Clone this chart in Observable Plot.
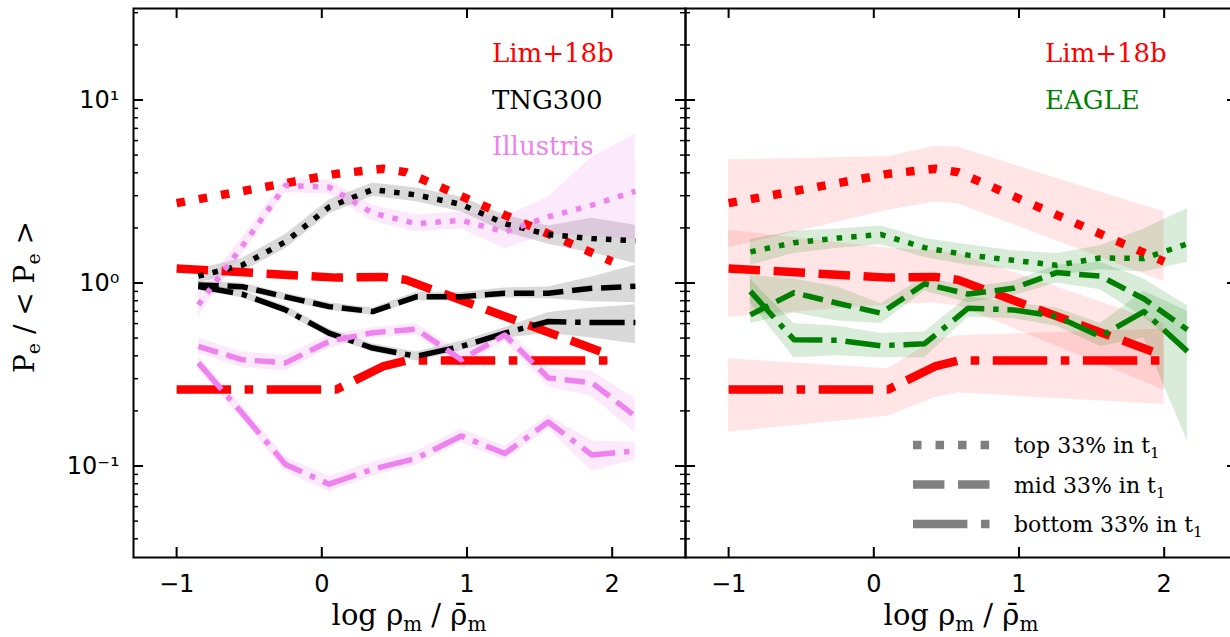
<!DOCTYPE html>
<html><head><meta charset="utf-8">
<script src="https://cdn.jsdelivr.net/npm/d3@7"></script>
<script src="https://cdn.jsdelivr.net/npm/@observablehq/plot@0.6"></script>
<style>
html,body{margin:0;padding:0;background:#fff;overflow:hidden;}
#wrap{position:relative;width:1230px;height:637px;overflow:hidden;background:#fff;}
#overlay{position:absolute;left:0;top:0;pointer-events:none;}
</style></head>
<body><div id="wrap"></div>
<script>
// ---------- data ----------
const simX = [-0.85, -0.55, -0.25, 0.05, 0.35, 0.65, 0.96, 1.26, 1.56, 1.86, 2.16];
const limX = [-1.0, 0.1, 0.42, 0.58, 2.0];

// Lim+18b (red)
const limTop   = [2.73, 3.95, 4.21, 4.03, 1.31];
const limTopLo = [1.56, 2.50, 2.77, 2.71, 1.02];
const limTopHi = [4.71, 4.91, 5.58, 5.52, 2.44];
const limMid   = [1.20, 1.07, 1.08, 1.04, 0.40];
const limMidLo = [0.65, 0.76, 0.78, 0.75, 0.26];
const limMidHi = [1.94, 1.55, 1.50, 1.45, 0.60];
const limBot   = [0.262, 0.262, 0.35, 0.377, 0.377];
const limBotLo = [0.153, 0.187, 0.236, 0.251, 0.217];
const limBotHi = [0.385, 0.34, 0.49, 0.515, 0.56];

// TNG300 (black)
const tngTop   = [1.09, 1.25, 1.68, 2.60, 3.24, 3.03, 2.69, 2.11, 1.84, 1.75, 1.70];
const tngTopLo = [1.00, 1.15, 1.54, 2.38, 2.98, 2.78, 2.45, 1.90, 1.63, 1.46, 1.28];
const tngTopHi = [1.19, 1.36, 1.84, 2.84, 3.52, 3.30, 2.95, 2.35, 2.05, 2.26, 2.07];
const tngMid   = [0.975, 0.955, 0.84, 0.743, 0.698, 0.84, 0.84, 0.88, 0.88, 0.935, 0.96];
const tngMidLo = [0.93, 0.91, 0.80, 0.71, 0.665, 0.80, 0.80, 0.83, 0.82, 0.79, 0.78];
const tngMidHi = [1.02, 1.00, 0.88, 0.78, 0.73, 0.89, 0.89, 0.94, 0.95, 1.08, 1.25];
const tngBot   = [0.955, 0.87, 0.713, 0.532, 0.441, 0.398, 0.45, 0.532, 0.616, 0.608, 0.608];
const tngBotLo = [0.91, 0.83, 0.68, 0.505, 0.42, 0.375, 0.425, 0.50, 0.53, 0.50, 0.466];
const tngBotHi = [1.00, 0.91, 0.75, 0.56, 0.465, 0.42, 0.48, 0.57, 0.69, 0.73, 0.76];

// Illustris (violet)
const illTop   = [0.76, 1.58, 3.41, 3.34, 2.41, 2.11, 2.20, 1.90, 2.30, 2.66, 3.18];
const illTopLo = [0.66, 1.42, 3.12, 3.05, 2.18, 1.90, 1.98, 1.54, 1.85, 1.80, 1.72];
const illTopHi = [0.88, 1.76, 3.72, 3.65, 2.66, 2.35, 2.44, 2.30, 2.95, 4.86, 6.50];
const illMid   = [0.45, 0.381, 0.366, 0.48, 0.535, 0.56, 0.381, 0.52, 0.303, 0.285, 0.187];
const illMidLo = [0.41, 0.345, 0.33, 0.44, 0.50, 0.52, 0.345, 0.48, 0.27, 0.24, 0.152];
const illMidHi = [0.50, 0.42, 0.40, 0.52, 0.57, 0.60, 0.42, 0.57, 0.34, 0.33, 0.232];
const illBot   = [0.366, 0.195, 0.102, 0.0796, 0.096, 0.110, 0.146, 0.117, 0.174, 0.115, 0.121];
const illBotLo = [0.335, 0.18, 0.093, 0.072, 0.088, 0.101, 0.134, 0.107, 0.16, 0.094, 0.108];
const illBotHi = [0.40, 0.215, 0.112, 0.088, 0.105, 0.12, 0.16, 0.128, 0.19, 0.137, 0.135];

// EAGLE (green)
const eagTop   = [1.48, 1.66, 1.76, 1.84, 1.56, 1.42, 1.33, 1.25, 1.37, 1.36, 1.64];
const eagTopLo = [1.25, 1.45, 1.55, 1.62, 1.38, 1.25, 1.18, 1.10, 1.18, 1.15, 1.30];
const eagTopHi = [1.73, 1.92, 1.97, 2.05, 1.75, 1.62, 1.50, 1.45, 1.60, 1.97, 2.55];
const eagMid   = [0.67, 0.885, 0.775, 0.684, 0.99, 0.87, 0.935, 1.14, 1.09, 0.82, 0.555];
const eagMidLo = [0.60, 0.686, 0.62, 0.60, 0.90, 0.78, 0.85, 1.00, 0.92, 0.65, 0.42];
const eagMidHi = [1.10, 1.05, 0.95, 0.77, 1.08, 0.95, 1.02, 1.25, 1.30, 1.05, 0.75];
const eagBot   = [0.90, 0.49, 0.486, 0.454, 0.466, 0.728, 0.713, 0.656, 0.51, 0.698, 0.423];
const eagBotLo = [0.78, 0.39, 0.40, 0.39, 0.39, 0.65, 0.64, 0.58, 0.45, 0.50, 0.137];
const eagBotHi = [1.05, 0.60, 0.58, 0.53, 0.54, 0.84, 0.78, 0.73, 0.60, 0.90, 0.70];

// ticks
const xTicks = [-1, 0, 1, 2];
const yTicks = [0.1, 1, 10];
const yTickLabels = ["10⁻¹", "10⁰", "10¹"];

// ---------- layout ----------
const W = 1240, H = 637, MT = 8, MB = 80;
const IW = 552, IH = H - MT - MB;
const xDomain = [-1.297, 2.505];
const yDomain = [Math.pow(10, -1.5), Math.pow(10, 1.5)];
const yMinor = [];
for (let e = -2; e <= 1; e++) for (let k = 2; k <= 9; k++) {
  const v = k * Math.pow(10, e);
  if (v > yDomain[0] && v < yDomain[1]) yMinor.push(v);
}

const LW_RED = 8.5, LW_SIM = 5.5;
function dashes(style, lw) {
  if (style === "top") return [lw, 1.65 * lw].join(",");
  if (style === "mid") return [3.7 * lw, 1.6 * lw].join(",");
  return [6.4 * lw, 1.6 * lw, lw, 1.6 * lw].join(",");
}
function rows(xs, ys, lo, hi) {
  return xs.map((x, i) => ({x, y: ys[i], lo: lo ? lo[i] : null, hi: hi ? hi[i] : null}));
}
function band(xs, lo, hi, color, op) {
  return Plot.areaY(rows(xs, lo, lo, hi), {x: "x", y1: "lo", y2: "hi", fill: color, fillOpacity: op});
}
function line(xs, ys, color, lw, style) {
  return Plot.line(rows(xs, ys), {x: "x", y: "y", stroke: color, strokeWidth: lw,
    strokeDasharray: dashes(style, lw), strokeLinecap: "butt", strokeLinejoin: "round"});
}
function frameTicks() {
  const k = {stroke: "black"};
  return [
    Plot.tickY(yTicks, {y: d => d, insetRight: IW - 10, strokeWidth: 2, ...k}),
    Plot.tickY(yMinor, {y: d => d, insetRight: IW - 5, strokeWidth: 1.5, ...k}),
    Plot.tickY(yTicks, {y: d => d, insetLeft: IW - 10, strokeWidth: 2, ...k}),
    Plot.tickY(yMinor, {y: d => d, insetLeft: IW - 5, strokeWidth: 1.5, ...k}),
    Plot.tickX(xTicks, {x: d => d, insetTop: IH - 10, strokeWidth: 2, ...k}),
    Plot.tickX(xTicks, {x: d => d, insetBottom: IH - 10, strokeWidth: 2, ...k}),
    Plot.frame({stroke: "black", strokeWidth: 2})
  ];
}
const fmtX = d => (d < 0 ? "\u2212" : "") + Math.abs(d);
const fmtY = d => yTickLabels[yTicks.findIndex(t => Math.abs(Math.log10(t) - Math.log10(d)) < 1e-6)];

function panel(marginLeft, marginRight, marks, withY) {
  const yScale = {type: "log", domain: yDomain};
  if (!withY) yScale.axis = null;
  return Plot.plot({
    width: W, height: H, marginLeft, marginRight, marginTop: MT, marginBottom: MB,
    x: {domain: xDomain},
    y: yScale,
    style: {position: "absolute", left: "0px", top: "0px", background: "transparent",
            overflow: "visible", maxWidth: "none", color: "black"},
    marks: [
      ...marks,
      ...frameTicks(),
      Plot.axisX({ticks: xTicks, tickSize: 0, tickPadding: 17, tickFormat: fmtX,
                  fontSize: 24, fontFamily: "DejaVu Sans", label: null}),
      ...(withY ? [Plot.axisY({ticks: yTicks, tickSize: 0, tickPadding: 14, tickFormat: fmtY,
                  fontSize: 24, fontFamily: "DejaVu Sans", label: null})] : [])
    ]
  });
}

const RED = "#ff0000", VIOLET = "#ee82ee", GREEN = "#008000";

const left = panel(133, W - 685, [
  band(simX, tngTopLo, tngTopHi, "black", 0.15),
  band(simX, tngMidLo, tngMidHi, "black", 0.15),
  band(simX, tngBotLo, tngBotHi, "black", 0.15),
  band(simX, illTopLo, illTopHi, VIOLET, 0.17),
  band(simX, illMidLo, illMidHi, VIOLET, 0.17),
  band(simX, illBotLo, illBotHi, VIOLET, 0.17),
  line(limX, limTop, RED, LW_RED, "top"),
  line(limX, limMid, RED, LW_RED, "mid"),
  line(limX, limBot, RED, LW_RED, "bot"),
  line(simX, tngTop, "black", LW_SIM, "top"),
  line(simX, tngMid, "black", LW_SIM, "mid"),
  line(simX, tngBot, "black", LW_SIM, "bot"),
  line(simX, illTop, VIOLET, LW_SIM, "top"),
  line(simX, illMid, VIOLET, LW_SIM, "mid"),
  line(simX, illBot, VIOLET, LW_SIM, "bot")
], true);

const right = panel(685, W - 1237, [
  band(limX, limTopLo, limTopHi, RED, 0.1),
  band(limX, limMidLo, limMidHi, RED, 0.1),
  band(limX, limBotLo, limBotHi, RED, 0.1),
  band(simX, eagTopLo, eagTopHi, GREEN, 0.15),
  band(simX, eagMidLo, eagMidHi, GREEN, 0.15),
  band(simX, eagBotLo, eagBotHi, GREEN, 0.15),
  line(limX, limTop, RED, LW_RED, "top"),
  line(limX, limMid, RED, LW_RED, "mid"),
  line(limX, limBot, RED, LW_RED, "bot"),
  line(simX, eagTop, GREEN, LW_SIM, "top"),
  line(simX, eagMid, GREEN, LW_SIM, "mid"),
  line(simX, eagBot, GREEN, LW_SIM, "bot")
], false);

const wrap = document.getElementById("wrap");
wrap.appendChild(left);
wrap.appendChild(right);

// ---------- labels & legends ----------
const LWL = 8.5;
const serif = 'font-family="DejaVu Serif"';
const xlab = (cx) => `<text x="${cx}" y="625" text-anchor="middle" ${serif} font-size="29">log ρ<tspan dy="6" font-size="20">m</tspan><tspan dy="-6"> / ρ\u0304</tspan><tspan dy="6" font-size="20">m</tspan></text>`;
const legTxt = (x, y, color, s) => `<text x="${x}" y="${y}" fill="${color}" ${serif} font-size="26">${s}</text>`;
const styleLine = (y, style, label) =>
  `<line x1="913" x2="990" y1="${y}" y2="${y}" stroke="#808080" stroke-width="${LWL}" stroke-dasharray="${dashes(style, LWL)}"/>` +
  `<text x="1014" y="${y + 8}" ${serif} font-size="22" fill="black">${label} 33% in t<tspan dy="5" font-size="15">1</tspan></text>`;

const ov = `<svg id="overlay" width="1230" height="637" xmlns="http://www.w3.org/2000/svg">
  <text transform="translate(34,297) rotate(-90)" text-anchor="middle" ${serif} font-size="28">P<tspan dy="6" font-size="19">e</tspan><tspan dy="-6"> / &lt; P</tspan><tspan dy="6" font-size="19">e</tspan><tspan dy="-6"> &gt;</tspan></text>
  ${xlab(409)}
  ${xlab(961)}
  ${legTxt(492, 62, RED, "Lim+18b")}
  ${legTxt(492, 108.5, "black", "TNG300")}
  ${legTxt(492, 155, VIOLET, "Illustris")}
  ${legTxt(1045, 62, RED, "Lim+18b")}
  ${legTxt(1045, 108.5, GREEN, "EAGLE")}
  ${styleLine(445, "top", "top")}
  ${styleLine(484.5, "mid", "mid")}
  ${styleLine(524, "bot", "bottom")}
</svg>`;
wrap.insertAdjacentHTML("beforeend", ov);
</script>
</body></html>
